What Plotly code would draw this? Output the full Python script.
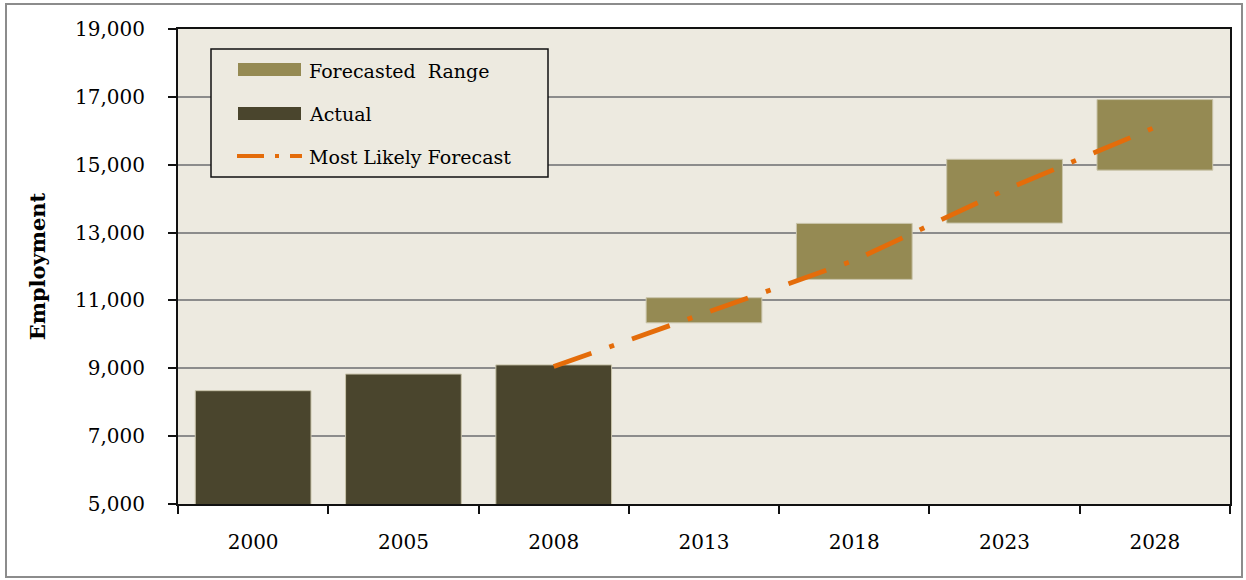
import plotly.graph_objects as go

# ---- data ----
categories = ["2000", "2005", "2008", "2013", "2018", "2023", "2028"]
actual_years = ["2000", "2005", "2008"]
actual_values = [8340, 8830, 9100]
range_years = ["2013", "2018", "2023", "2028"]
range_low = [10340, 11620, 13280, 14840]
range_high = [11080, 13270, 15160, 16920]
forecast_years = ["2008", "2013", "2018", "2023", "2028"]
forecast_values = [9050, 10610, 12180, 14250, 16100]
y_ticks = [5000, 7000, 9000, 11000, 13000, 15000, 17000, 19000]

# ---- style ----
W, H = 1246, 580
L, R, T, B = 178, 16, 29, 76
PW, PH = W - L - R, H - T - B
FONT = "DejaVu Serif"
BG = "#EDEAE0"
C_ACT = "#4A452D"
C_RNG = "#958A53"
C_LINE = "#E46C0A"
C_EDGE = "#C9C4AA"
TXT = "#000000"

def px(x):
    return (x - L) / PW

def py(y):
    return (H - B - y) / PH

fig = go.Figure()
fig.add_trace(go.Bar(
    x=actual_years, y=actual_values, width=0.77, name="Actual",
    marker=dict(color=C_ACT, line=dict(color=C_EDGE, width=1)), showlegend=False))
fig.add_trace(go.Bar(
    x=range_years, y=[h - l for h, l in zip(range_high, range_low)], base=range_low,
    width=0.77, name="Forecasted  Range",
    marker=dict(color=C_RNG, line=dict(color=C_EDGE, width=1)), showlegend=False))
fig.add_trace(go.Scatter(
    x=forecast_years, y=forecast_values, mode="lines", name="Most Likely Forecast",
    line=dict(color=C_LINE, width=4.8, dash="40px,19px,5px,19px"), showlegend=False))

shapes = []
annotations = []
# outer frame
shapes.append(dict(type="rect", xref="paper", yref="paper",
                   x0=px(6), x1=px(1242), y0=py(577), y1=py(4),
                   line=dict(color="#8C8C8C", width=2), fillcolor="rgba(0,0,0,0)", layer="below"))
# legend box
shapes.append(dict(type="rect", xref="paper", yref="paper",
                   x0=px(211), x1=px(548), y0=py(177), y1=py(49),
                   line=dict(color="#111111", width=1.5), fillcolor=BG, layer="above"))
shapes.append(dict(type="rect", xref="paper", yref="paper",
                   x0=px(238), x1=px(301), y0=py(76), y1=py(63),
                   line=dict(width=0), fillcolor=C_RNG))
shapes.append(dict(type="rect", xref="paper", yref="paper",
                   x0=px(238), x1=px(301), y0=py(120), y1=py(107),
                   line=dict(width=0), fillcolor=C_ACT))
shapes.append(dict(type="line", xref="paper", yref="paper",
                   x0=px(237), x1=px(302), y0=py(156), y1=py(156),
                   line=dict(color=C_LINE, width=4, dash="27px,11px,4px,11px")))
for label, yy in [("Forecasted  Range", 71), ("Actual", 114), ("Most Likely Forecast", 157)]:
    annotations.append(dict(text=label, xref="paper", yref="paper", x=px(307), y=py(yy),
                            xanchor="left", yanchor="middle", showarrow=False,
                            font=dict(family=FONT, size=19, color=TXT)))

fig.update_layout(
    width=W, height=H,
    margin=dict(l=L, r=R, t=T, b=B),
    paper_bgcolor="white", plot_bgcolor=BG,
    barmode="overlay", bargap=0.23,
    shapes=shapes, annotations=annotations,
    font=dict(family=FONT, size=20, color=TXT),
)
fig.update_xaxes(
    type="category", categoryorder="array", categoryarray=categories,
    showline=True, linecolor="#111111", linewidth=2, mirror=True,
    ticks="outside", tickson="boundaries", ticklen=8, tickwidth=2, tickcolor="#111111",
    showgrid=False, ticklabelstandoff=19,
    tickfont=dict(family=FONT, size=20, color=TXT),
)
fig.update_yaxes(
    range=[5000, 19000], tickvals=y_ticks, tickformat=",",
    showline=True, linecolor="#111111", linewidth=2, mirror=True,
    ticks="outside", ticklen=8, tickwidth=2, tickcolor="#111111",
    showgrid=True, gridcolor="#8C8C8C", gridwidth=2, zeroline=False,
    ticklabelstandoff=19,
    tickfont=dict(family=FONT, size=20, color=TXT),
    title=dict(text="<b>Employment</b>", standoff=24,
               font=dict(family=FONT, size=21, color=TXT)),
)

fig.write_html("out.html", config={"displayModeBar": False},
               post_script="document.body.style.margin='0';")
